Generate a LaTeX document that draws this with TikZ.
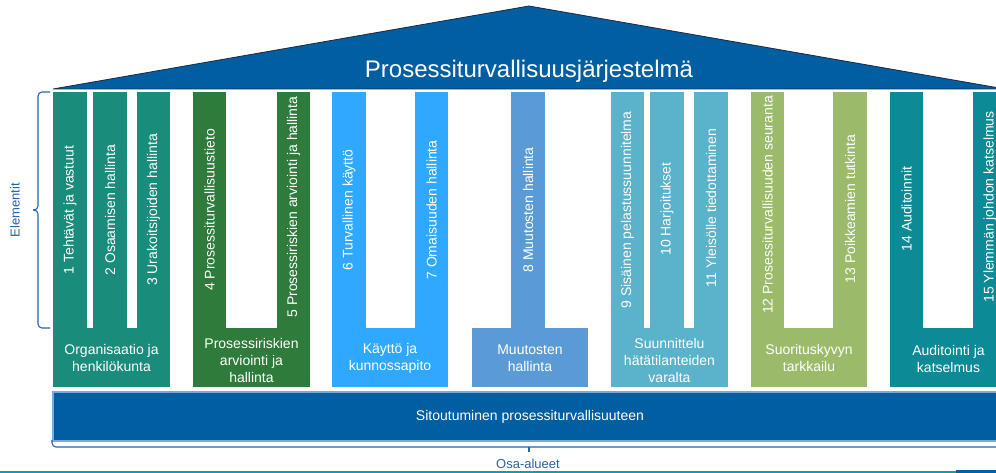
\documentclass[tikz,border=0pt]{standalone}
\usepackage{fontspec}
\setmainfont{Liberation Sans}
\definecolor{roofblue}{HTML}{005EA1}
\definecolor{roofedge}{HTML}{1A2A40}
\definecolor{baredge}{HTML}{7FA8D8}
\definecolor{lblblue}{HTML}{2563AA}
\definecolor{gA}{HTML}{1A8C7C}
\definecolor{gB}{HTML}{2E7B3B}
\definecolor{gC}{HTML}{2FA8FF}
\definecolor{gD}{HTML}{5B9BD5}
\definecolor{gE}{HTML}{5BB2CB}
\definecolor{gF}{HTML}{9BBB6A}
\definecolor{gG}{HTML}{0C8A96}
\definecolor{footteal}{HTML}{00A3B6}
\begin{document}
\begin{tikzpicture}[x=0.75pt,y=-0.75pt,
  ptext/.style={rotate=90, text=white, font=\fontsize{10.5}{12}\selectfont, inner sep=0pt},
  btext/.style={text=white, font=\fontsize{10.5}{12.75}\selectfont, align=center, inner sep=0pt},
  lbl/.style={text=lblblue, font=\fontsize{9.75}{11}\selectfont, inner sep=0pt},
  bracket/.style={draw=lblblue, line width=0.8pt, rounded corners=3pt},
]
\useasboundingbox (0,0) rectangle (996,473);
\begin{scope}
\clip (0,0) rectangle (996,473);
% roof
\fill[roofblue] (53,89) -- (529,6) -- (1005,89) -- cycle;
\draw[roofedge, line width=0.6pt] (53,89) -- (529,6) -- (1005,89) -- cycle;
\node[text=white, font=\fontsize{18}{20}\selectfont, inner sep=0pt, anchor=base] (roof) at (529,78) {Prosessiturvallisuusjärjestelmä};

% group 1
\fill[gA] (53,92) rectangle (87,328);
\fill[gA] (93,92) rectangle (127,328);
\fill[gA] (137,92) rectangle (170,328);
\fill[gA] (53,328) rectangle (170,387);
\node[ptext] (e1) at (70,210) {1 Tehtävät ja vastuut};
\node[ptext] (e2) at (110,210) {2 Osaamisen hallinta};
\node[ptext] (e3) at (153.5,210) {3 Urakoitsijoiden hallinta};
\node[btext] (a1) at (111.5,358) {Organisaatio ja\\henkilökunta};

% group 2
\fill[gB] (193,92) rectangle (226,328);
\fill[gB] (277,92) rectangle (310,328);
\fill[gB] (193,328) rectangle (310,387);
\node[ptext] (e4) at (209.5,210) {4 Prosessiturvallisuustieto};
\node[ptext] (e5) at (293.5,207) {5 Prosessiriskien arviointi ja hallinta};
\node[btext] (a2) at (251.5,360) {Prosessiriskien\\arviointi ja\\hallinta};

% group 3
\fill[gC] (332,92) rectangle (366,328);
\fill[gC] (415,92) rectangle (448,328);
\fill[gC] (332,328) rectangle (448,387);
\node[ptext] (e6) at (349,210) {6 Turvallinen käyttö};
\node[ptext] (e7) at (431.5,210) {7 Omaisuuden hallinta};
\node[btext] (a3) at (390,358) {Käyttö ja\\kunnossapito};

% group 4
\fill[gD] (511,92) rectangle (545,328);
\fill[gD] (472,328) rectangle (588,387);
\node[ptext] (e8) at (528,210) {8 Muutosten hallinta};
\node[btext] (a4) at (530,358) {Muutosten\\hallinta};

% group 5
\fill[gE] (611,92) rectangle (644,328);
\fill[gE] (650,92) rectangle (684,328);
\fill[gE] (694,92) rectangle (728,328);
\fill[gE] (611,328) rectangle (728,387);
\node[ptext] (e9) at (627.5,210) {9 Sisäinen pelastussuunnitelma};
\node[ptext] (e10) at (667,209) {10 Harjoitukset};
\node[ptext] (e11) at (711,208) {11 Yleisölle tiedottaminen};
\node[btext] (a5) at (669.5,360) {Suunnittelu\\hätätilanteiden\\varalta};

% group 6
\fill[gF] (751,92) rectangle (784,328);
\fill[gF] (833,92) rectangle (867,328);
\fill[gF] (751,328) rectangle (867,387);
\node[ptext] (e12) at (767.5,205) {12 Prosessiturvallisuuden seuranta};
\node[ptext] (e13) at (850,209) {13 Poikkeamien tutkinta};
\node[btext] (a6) at (809,358) {Suorituskyvyn\\tarkkailu};

% group 7
\fill[gG] (890,92) rectangle (923,328);
\fill[gG] (973,92) rectangle (1007,328);
\fill[gG] (890,328) rectangle (1007,387);
\node[ptext] (e14) at (906.5,209) {14 Auditoinnit};
\node[ptext] (e15) at (990,207) {15 Ylemmän johdon katselmus};
\node[btext] (a7) at (948.5,359) {Auditointi ja\\katselmus};

% foundation bar
\fill[roofblue] (53,392) rectangle (1010,441);
\draw[baredge, line width=0.8pt] (53,392) rectangle (1010,441);
\node[text=white, font=\fontsize{10.5}{12}\selectfont, inner sep=0pt] (found) at (530,417) {Sitoutuminen prosessiturvallisuuteen};

% left bracket
\draw[bracket] (50,92) -- (38,92) -- (38,210) -- (33,210);
\draw[bracket] (33,210) -- (38,210) -- (38,328) -- (50,328);
\node[lbl, rotate=90] (elem) at (15,210) {Elementit};

% bottom bracket
\draw[bracket] (52,440) -- (52,447) -- (1010,447);
\coordinate (tick) at (529,452);
\draw[draw=lblblue, line width=0.8pt] (529,447) -- (tick);
\node[lbl, anchor=base] (osa) at (528,469) {Osa-alueet};

% footer line
\fill[footteal] (0,471) rectangle (996,474);
\fill[roofblue] (956,470) rectangle (996,474);
\end{scope}
\end{tikzpicture}
\end{document}
